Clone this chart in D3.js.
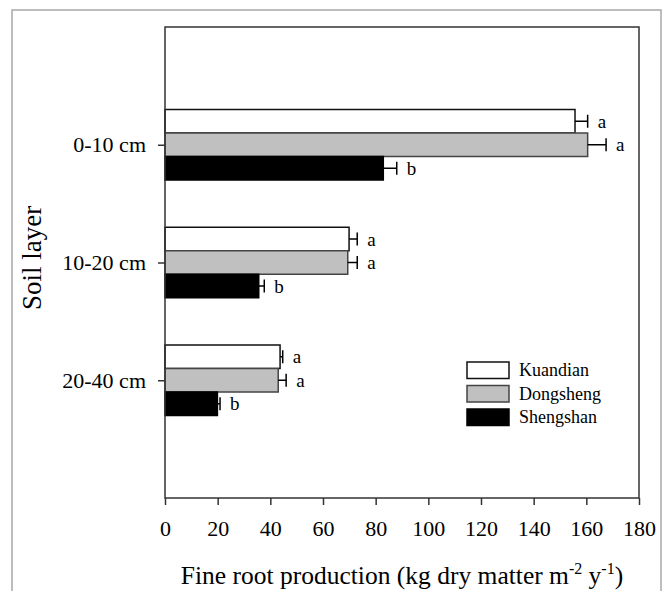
<!DOCTYPE html>
<html>
<head>
<meta charset="utf-8">
<script src="https://cdn.jsdelivr.net/npm/d3@7"></script>
<style>
html,body{margin:0;padding:0;background:#fff;}
svg{display:block;font-family:"Liberation Serif","Times New Roman",serif;}
</style>
</head>
<body>
<svg id="chart" width="668" height="591"></svg>
<script>
const categories = ["0-10 cm", "10-20 cm", "20-40 cm"];
const seriesNames = ["Kuandian", "Dongsheng", "Shengshan"];
const kuandian = [155.7, 69.9, 43.7];
const dongsheng = [160.5, 69.4, 43.0];
const shengshan = [82.9, 35.6, 19.9];
const kuandianErr = [4.8, 3.1, 1.0];
const dongshengErr = [7.0, 3.6, 3.0];
const shengshanErr = [5.1, 2.1, 1.0];
const kuandianLetters = ["a", "a", "a"];
const dongshengLetters = ["a", "a", "a"];
const shengshanLetters = ["b", "b", "b"];
const xTicks = [0, 20, 40, 60, 80, 100, 120, 140, 160, 180];

const seriesValues = [kuandian, dongsheng, shengshan];
const seriesErrs = [kuandianErr, dongshengErr, shengshanErr];
const seriesLetters = [kuandianLetters, dongshengLetters, shengshanLetters];
const fills = ["#ffffff", "#c0c0c0", "#000000"];
const strokes = ["#111", "#444", "#000"];

const svg = d3.select("#chart");
const pLeft = 165, pRight = 639, pTop = 27, pBottom = 498;

// outer frame
svg.append("rect").attr("x", 12).attr("y", 10).attr("width", 649).attr("height", 620)
  .attr("fill", "none").attr("stroke", "#a8a8a8").attr("stroke-width", 1.5);

const x = d3.scaleLinear().domain([0, 180]).range([pLeft, pRight]);
const y = d3.scalePoint().domain(categories).range([pTop, pBottom]).padding(1);
const barH = 23.5;

const g = svg.append("g");

// bars
seriesValues.forEach((vals, si) => {
  categories.forEach((c, ci) => {
    const y0 = y(c) + (si - 1.5) * barH;
    const v = vals[ci];
    g.append("rect")
      .attr("x", x(0)).attr("y", y0)
      .attr("width", x(v) - x(0)).attr("height", barH)
      .attr("fill", fills[si]).attr("stroke", strokes[si]).attr("stroke-width", 1.5);
    const yc = y0 + barH / 2;
    const xe = x(v + seriesErrs[si][ci]);
    g.append("line").attr("x1", x(v)).attr("x2", xe).attr("y1", yc).attr("y2", yc)
      .attr("stroke", "#000").attr("stroke-width", 1.5);
    g.append("line").attr("x1", xe).attr("x2", xe).attr("y1", yc - 6.5).attr("y2", yc + 6.5)
      .attr("stroke", "#000").attr("stroke-width", 1.5);
    g.append("text").attr("x", xe + 10).attr("y", yc).attr("dy", "0.35em")
      .attr("font-size", 19).attr("fill", "#000").text(seriesLetters[si][ci]);
  });
});

// plot frame
svg.append("rect").attr("x", pLeft).attr("y", pTop).attr("width", pRight - pLeft).attr("height", pBottom - pTop)
  .attr("fill", "none").attr("stroke", "#333").attr("stroke-width", 1.5);

// x axis
const xAxis = svg.append("g").attr("transform", `translate(0,${pBottom})`)
  .call(d3.axisBottom(x).tickValues(xTicks).tickSize(7).tickPadding(15).tickFormat(d3.format("d")));
xAxis.select(".domain").remove();
xAxis.selectAll("line").attr("stroke", "#333").attr("stroke-width", 1.5);
xAxis.selectAll("text").attr("font-size", 22).attr("font-family", "Liberation Serif").attr("fill", "#000");

// y axis
const yAxis = svg.append("g").attr("transform", `translate(${pLeft},0)`)
  .call(d3.axisLeft(y).tickSize(7).tickPadding(12));
yAxis.select(".domain").remove();
yAxis.selectAll("line").attr("stroke", "#333").attr("stroke-width", 1.5);
yAxis.selectAll("text").attr("font-size", 22).attr("font-family", "Liberation Serif").attr("fill", "#000");

// axis titles
const xt = svg.append("text").attr("x", 402).attr("y", 584).attr("text-anchor", "middle")
  .attr("font-size", 25.5).attr("fill", "#000");
xt.append("tspan").text("Fine root production (kg dry matter m");
xt.append("tspan").attr("font-size", 16).attr("dy", -10).text("-2");
xt.append("tspan").attr("dy", 10).text(" y");
xt.append("tspan").attr("font-size", 16).attr("dy", -10).text("-1");
xt.append("tspan").attr("dy", 10).text(")");

svg.append("text").attr("transform", "translate(41,258) rotate(-90)")
  .attr("text-anchor", "middle").attr("font-size", 27).attr("fill", "#000").text("Soil layer");

// legend
const lg = svg.append("g").attr("transform", "translate(467,362)");
seriesNames.forEach((n, i) => {
  lg.append("rect").attr("x", 0).attr("y", i * 23.5).attr("width", 42).attr("height", 16.5)
    .attr("fill", fills[i]).attr("stroke", strokes[i]).attr("stroke-width", 1.5);
  lg.append("text").attr("x", 52).attr("y", i * 23.5 + 8).attr("dy", "0.35em")
    .attr("font-size", 18).attr("fill", "#000").text(n);
});
</script>
</body>
</html>
